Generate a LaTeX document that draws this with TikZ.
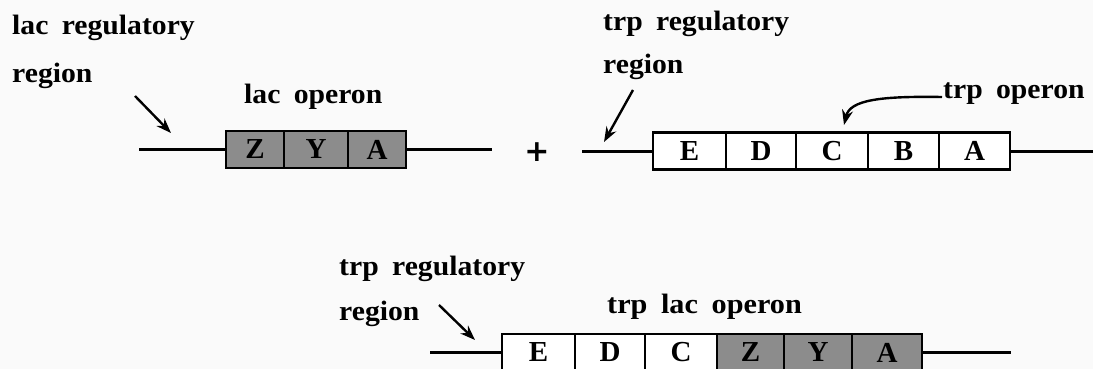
\documentclass[tikz,border=0pt]{standalone}
\usepackage{graphicx}
\usepackage{fontspec}
\setmainfont{Liberation Serif}
\newfontfamily\plusfont{DejaVu Sans}
\usetikzlibrary{arrows.meta}
\definecolor{genegray}{RGB}{140,140,140}
\definecolor{bgcol}{RGB}{250,250,250}
\newcommand{\lblfont}{\fontsize{28}{28}\selectfont\bfseries}
\newcommand{\genefont}{\fontsize{29}{29}\selectfont\bfseries}
\newcommand{\wsp}{\hspace{0.45em}}
\newcommand{\wide}[1]{\scalebox{1.06}[1]{#1}}
\tikzset{
  lbl/.style={font=\lblfont, anchor=base west, inner sep=0pt},
  gene/.style={draw, line width=2.8pt, minimum height=37pt, inner sep=0pt, font=\genefont},
  lacg/.style={gene, fill=genegray},
  trpg/.style={gene, fill=white},
  dna/.style={line width=3pt},
  ptr/.style={line width=2.4pt, -{Stealth[length=15pt,width=11pt]}}
}
\begin{document}
\begin{tikzpicture}[x=1pt,y=-1pt]
\fill[bgcol] (0,0) rectangle (1093,369);
\useasboundingbox (0,0) rectangle (1093,369);

% ---------- top left: lac operon ----------
\node[lbl] (lacreg1) at (12,35) {\wide{lac\wsp regulatory}};
\node[lbl] (lacreg2) at (12,82) {\wide{region}};
\node[lbl] (lacop) at (244,103) {\wide{lac\wsp operon}};

\node[lacg, minimum width=58pt] (lZ) at (255,149.5) {Z};
\node[lacg, minimum width=64pt] (lY) at (316,149.5) {Y};
\node[lacg, minimum width=58pt] (lA) at (377,149.5) {A};
\coordinate (lL) at (139,149.5);
\coordinate (lR) at (492,149.5);
\draw[dna] (lL) -- (lZ.west);
\draw[dna] (lA.east) -- (lR);

\coordinate (la1) at (135,96);
\coordinate (la2) at (171,133);
\draw[ptr] (la1) -- (la2);

\node[font=\fontsize{30}{30}\selectfont\plusfont\bfseries, inner sep=0pt] (plus) at (537,152) {+};

% ---------- top right: trp operon ----------
\node[lbl] (trpreg1) at (603,31) {\wide{trp\wsp regulatory}};
\node[lbl] (trpreg2) at (603,74) {\wide{region}};
\node[lbl] (trpop) at (943,99) {\wide{trp\wsp operon}};

\node[trpg, minimum width=73pt] (tE) at (689.5,151) {E};
\node[trpg, minimum width=70pt] (tD) at (761,151) {D};
\node[trpg, minimum width=72pt] (tC) at (832,151) {C};
\node[trpg, minimum width=71pt] (tB) at (903.5,151) {B};
\node[trpg, minimum width=71pt] (tA) at (974.5,151) {A};
\coordinate (tL) at (582,151);
\coordinate (tR) at (1095,151);
\draw[dna] (tL) -- (tE.west);
\draw[dna] (tA.east) -- (tR);

\coordinate (ta1) at (633,90);
\coordinate (ta2) at (604,142);
\draw[ptr] (ta1) -- (ta2);

\coordinate (tc1) at (942,97);
\coordinate (tc2) at (844,125);
\draw[ptr] (tc1) .. controls (880,96) and (850,100) .. (tc2);

% ---------- bottom: trp lac operon ----------
\node[lbl] (breg1) at (339,275) {\wide{trp\wsp regulatory}};
\node[lbl] (breg2) at (339,320) {\wide{region}};
\node[lbl] (bop) at (607,313) {\scalebox{1.08}[1]{trp\wsp lac\wsp operon}};

\node[trpg, minimum width=73pt] (bE) at (538.5,352.5) {E};
\node[trpg, minimum width=70pt] (bD) at (610,352.5) {D};
\node[trpg, minimum width=72pt] (bC) at (681,352.5) {C};
\node[lacg, minimum width=67pt] (bZ) at (750.5,352.5) {Z};
\node[lacg, minimum width=68pt] (bY) at (818,352.5) {Y};
\node[lacg, minimum width=70pt] (bA) at (887,352.5) {A};
\coordinate (bL) at (430,352.5);
\coordinate (bR) at (1011,352.5);
\draw[dna] (bL) -- (bE.west);
\draw[dna] (bA.east) -- (bR);

\coordinate (ba1) at (439,305);
\coordinate (ba2) at (475,340);
\draw[ptr] (ba1) -- (ba2);
\end{tikzpicture}
\end{document}
